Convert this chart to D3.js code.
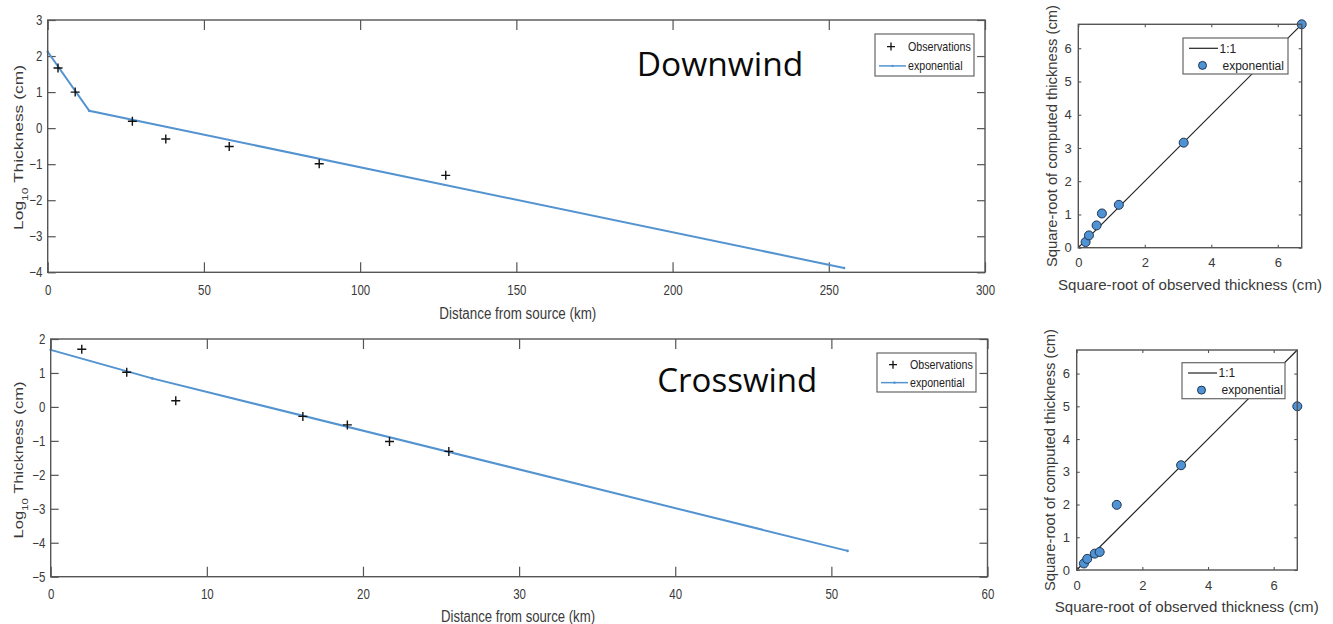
<!DOCTYPE html>
<html>
<head>
<meta charset="utf-8">
<script src="https://cdn.jsdelivr.net/npm/d3@7/dist/d3.min.js"></script>
<style>
  html, body { margin: 0; padding: 0; background: #fff; }
  svg { display: block; }
  text { font-family: "Liberation Sans", Arial, sans-serif; }
</style>
</head>
<body>
<svg id="chart" width="1333" height="624"></svg>
<script>
// ---------------- DATA ----------------
// Downwind profile (log10 thickness vs distance)
const dwObsX = [3.3, 8.8, 27.1, 37.8, 58.1, 86.9, 127.4];
const dwObsY = [1.67, 1.0, 0.19, -0.30, -0.51, -0.99, -1.31];
const dwFitX = [0, 13.3, 254.9];
const dwFitY = [2.12, 0.48, -3.88];
const dwXTicks = [0, 50, 100, 150, 200, 250, 300];
const dwYTicks = [-4, -3, -2, -1, 0, 1, 2, 3];

// Crosswind profile
const cwObsX = [1.99, 4.87, 8.01, 16.15, 19.0, 21.7, 25.5];
const cwObsY = [1.70, 1.02, 0.18, -0.28, -0.53, -1.02, -1.31];
const cwFitX = [0, 6.5, 51.04];
const cwFitY = [1.68, 0.84, -4.24];
const cwXTicks = [0, 10, 20, 30, 40, 50, 60];
const cwYTicks = [-5, -4, -3, -2, -1, 0, 1, 2];

// Square-root comparison (downwind)
const dwSqObs = [0.22, 0.32, 0.55, 0.71, 1.22, 3.17, 6.72];
const dwSqComp = [0.17, 0.37, 0.67, 1.03, 1.29, 3.16, 6.72];
// Square-root comparison (crosswind)
const cwSqObs = [0.22, 0.32, 0.55, 0.70, 1.22, 3.18, 6.72];
const cwSqComp = [0.20, 0.34, 0.50, 0.55, 1.99, 3.20, 5.00];
const sqXTicks = [0, 2, 4, 6];
const sqYTicks = [0, 1, 2, 3, 4, 5, 6];
const sqMax = 6.72;

const seriesNames = ["Observations", "exponential"];
const sqNames = ["1:1", "exponential"];
const titles = ["Downwind", "Crosswind"];

// ---------------- STYLE ----------------
const AXIS = "#555";
const BLUE = "#5393d0";
const TXT = "#3a3a3a";
const SQUEEZE = 0.82;

const svg = d3.select("#chart");

function squeeze(sel, f) {
  sel.each(function () {
    const w = this.getComputedTextLength();
    if (w > 0) {
      d3.select(this).attr("textLength", w * f).attr("lengthAdjust", "spacingAndGlyphs");
    }
  });
}
function fitLen(sel, len) {
  sel.attr("textLength", len).attr("lengthAdjust", "spacingAndGlyphs");
}

// ---------------- PROFILE PANELS ----------------
function profile(cfg) {
  const x = d3.scaleLinear().domain(cfg.xdom).range([cfg.x0, cfg.x1]);
  const y = d3.scaleLinear().domain(cfg.ydom).range([cfg.y1, cfg.y0]);
  const g = svg.append("g");

  const ax = g.append("g").attr("transform", `translate(0,${cfg.y1})`)
    .call(d3.axisBottom(x).tickValues(cfg.xticks).tickSize(-10).tickSizeOuter(0).tickPadding(12.8).tickFormat(d3.format("d")));
  const axT = g.append("g").attr("transform", `translate(0,${cfg.y0})`)
    .call(d3.axisTop(x).tickValues(cfg.xticks).tickSize(-10).tickSizeOuter(0).tickFormat(""));
  const ay = g.append("g").attr("transform", `translate(${cfg.x0},0)`)
    .call(d3.axisLeft(y).tickValues(cfg.yticks).tickSize(-8).tickSizeOuter(0).tickPadding(5.4).tickFormat(d3.format("d")));
  const ayR = g.append("g").attr("transform", `translate(${cfg.x1},0)`)
    .call(d3.axisRight(y).tickValues(cfg.yticks).tickSize(-8).tickSizeOuter(0).tickFormat(""));
  [ax, axT, ay, ayR].forEach(a => {
    a.select(".domain").remove();
    a.selectAll("line").attr("stroke", AXIS).attr("stroke-width", 1.2);
    a.selectAll("text").style("font-family", '"Liberation Sans", Arial, sans-serif')
      .style("font-size", "14px").style("fill", TXT);
  });
  squeeze(ax.selectAll("text"), SQUEEZE);
  squeeze(ay.selectAll("text"), SQUEEZE);

  // fit line
  const fit = cfg.fitX.map((v, i) => [v, cfg.fitY[i]]);
  g.append("path").datum(fit)
    .attr("d", d3.line().x(d => x(d[0])).y(d => y(d[1])))
    .attr("fill", "none").attr("stroke", BLUE).attr("stroke-width", 2);
  g.selectAll(".fitdot").data(fit).join("circle")
    .attr("cx", d => x(d[0])).attr("cy", d => y(d[1])).attr("r", 1.3).attr("fill", BLUE);

  // observations
  const obs = cfg.obsX.map((v, i) => [v, cfg.obsY[i]]);
  g.selectAll(".obs").data(obs).join("path")
    .attr("transform", d => `translate(${x(d[0])},${y(d[1])})`)
    .attr("d", "M-4.5,0H4.5M0,-4.5V4.5")
    .attr("stroke", "#111").attr("stroke-width", 1.4).attr("fill", "none");

  // frame
  g.append("rect").attr("x", cfg.x0).attr("y", cfg.y0)
    .attr("width", cfg.x1 - cfg.x0).attr("height", cfg.y1 - cfg.y0)
    .attr("fill", "none").attr("stroke", AXIS).attr("stroke-width", 1.4);

  // x label
  const xl = g.append("text").attr("x", cfg.xlab[0]).attr("y", cfg.xlab[1]).attr("dy", "0.35em")
    .attr("text-anchor", "middle").style("font-size", "16px").style("fill", TXT).text("Distance from source (km)");
  fitLen(xl, cfg.xlabLen);

  // y label
  const yl = g.append("g").attr("transform", `translate(${cfg.ylab[0]},${cfg.ylab[1]}) scale(${SQUEEZE},1) rotate(-90)`)
    .append("text").attr("text-anchor", "middle").attr("dy", "0.35em").style("font-size", "16px").style("fill", TXT);
  yl.append("tspan").text("Log");
  yl.append("tspan").attr("baseline-shift", "sub").style("font-size", "11px").text("10");
  yl.append("tspan").text(" Thickness (cm)");
  fitLen(yl, cfg.ylabLen);

  // title
  const t = g.append("text").attr("x", cfg.title[0]).attr("y", cfg.title[1])
    .style("font-family", '"Open Sans", sans-serif').style("font-size", "33px").style("fill", "#0a0a0a")
    .text(cfg.titleText);
  fitLen(t, cfg.titleLen);

  // legend
  const L = cfg.leg;
  const lg = g.append("g");
  lg.append("rect").attr("x", L.x0).attr("y", L.y0).attr("width", L.x1 - L.x0).attr("height", L.y1 - L.y0)
    .attr("fill", "#fff").attr("stroke", "#666").attr("stroke-width", 1.2);
  const h = L.y1 - L.y0;
  const r1 = L.y0 + 0.30 * h, r2 = L.y0 + 0.76 * h;
  lg.append("path").attr("transform", `translate(${L.x0 + 16},${r1})`)
    .attr("d", "M-4,0H4M0,-4V4").attr("stroke", "#111").attr("stroke-width", 1.3);
  lg.append("line").attr("x1", L.x0 + 4).attr("x2", L.x0 + 31).attr("y1", r2).attr("y2", r2)
    .attr("stroke", BLUE).attr("stroke-width", 1.5);
  lg.append("circle").attr("cx", L.x0 + 17.5).attr("cy", r2).attr("r", 1.2).attr("fill", BLUE);
  const lt = lg.selectAll(".lt").data(seriesNames).join("text")
    .attr("x", L.x0 + 33).attr("y", (d, i) => i === 0 ? r1 : r2).attr("dy", "0.35em")
    .style("font-size", "13px").style("fill", "#222").text(d => d);
  squeeze(lt, SQUEEZE);
}

profile({
  xdom: [0, 300], ydom: [-4, 3], x0: 47.7, x1: 985, y0: 20, y1: 272.3,
  xticks: dwXTicks, yticks: dwYTicks, obsX: dwObsX, obsY: dwObsY, fitX: dwFitX, fitY: dwFitY,
  xlab: [517.8, 313], xlabLen: 157, ylab: [18.3, 147.5], ylabLen: 165,
  title: [636.7, 75.7], titleLen: 166.7, titleText: titles[0],
  leg: { x0: 875, x1: 974, y0: 34, y1: 76 }
});
profile({
  xdom: [0, 60], ydom: [-5, 2], x0: 50.7, x1: 987.5, y0: 339, y1: 576.7,
  xticks: cwXTicks, yticks: cwYTicks, obsX: cwObsX, obsY: cwObsY, fitX: cwFitX, fitY: cwFitY,
  xlab: [518, 616.7], xlabLen: 154, ylab: [18.3, 460], ylabLen: 157,
  title: [657.3, 391.7], titleLen: 160, titleText: titles[1],
  leg: { x0: 877, x1: 976, y0: 353, y1: 392 }
});

// ---------------- SQUARE-ROOT PANELS ----------------
function sqPanel(cfg) {
  const x = d3.scaleLinear().domain([0, sqMax]).range([cfg.x0, cfg.x1]);
  const y = d3.scaleLinear().domain([0, sqMax]).range([cfg.y1, cfg.y0]);
  const g = svg.append("g");

  const ax = g.append("g").attr("transform", `translate(0,${cfg.y1})`)
    .call(d3.axisBottom(x).tickValues(sqXTicks).tickSize(-3).tickSizeOuter(0).tickPadding(10.5).tickFormat(d3.format("d")));
  const axT = g.append("g").attr("transform", `translate(0,${cfg.y0})`)
    .call(d3.axisTop(x).tickValues(sqXTicks).tickSize(-3).tickSizeOuter(0).tickFormat(""));
  const ay = g.append("g").attr("transform", `translate(${cfg.x0},0)`)
    .call(d3.axisLeft(y).tickValues(sqYTicks).tickSize(-3).tickSizeOuter(0).tickPadding(6.6).tickFormat(d3.format("d")));
  const ayR = g.append("g").attr("transform", `translate(${cfg.x1},0)`)
    .call(d3.axisRight(y).tickValues(sqYTicks).tickSize(-3).tickSizeOuter(0).tickFormat(""));
  [ax, axT, ay, ayR].forEach(a => {
    a.select(".domain").remove();
    a.selectAll("line").attr("stroke", AXIS).attr("stroke-width", 1.1);
    a.selectAll("text").style("font-family", '"Liberation Sans", Arial, sans-serif')
      .style("font-size", "13px").style("fill", TXT);
  });

  // 1:1 line
  g.append("line").attr("x1", x(0)).attr("y1", y(0)).attr("x2", x(sqMax)).attr("y2", y(sqMax))
    .attr("stroke", "#222").attr("stroke-width", 1.2);

  // points
  const pts = cfg.obs.map((v, i) => [v, cfg.comp[i]]);
  g.selectAll(".pt").data(pts).join("circle")
    .attr("cx", d => x(d[0])).attr("cy", d => y(d[1])).attr("r", 4.5)
    .attr("fill", "#4f93d4").attr("stroke", "#1f3550").attr("stroke-width", 1);

  // frame
  g.append("rect").attr("x", cfg.x0).attr("y", cfg.y0)
    .attr("width", cfg.x1 - cfg.x0).attr("height", cfg.y1 - cfg.y0)
    .attr("fill", "none").attr("stroke", AXIS).attr("stroke-width", 1.4);

  // labels
  const xl = g.append("text").attr("x", cfg.xlab[0]).attr("y", cfg.xlab[1]).attr("dy", "0.35em")
    .attr("text-anchor", "middle").style("font-size", "15px").style("fill", TXT)
    .text("Square-root of observed thickness (cm)");
  fitLen(xl, 264);
  const yl = g.append("text").attr("transform", `translate(${cfg.ylab[0]},${cfg.ylab[1]}) rotate(-90)`)
    .attr("text-anchor", "middle").attr("dy", "0.35em").style("font-size", "15px").style("fill", TXT)
    .text("Square-root of computed thickness (cm)");
  fitLen(yl, 262);

  // legend
  const L = cfg.leg;
  const lg = g.append("g");
  lg.append("rect").attr("x", L.x0).attr("y", L.y0).attr("width", L.x1 - L.x0).attr("height", L.y1 - L.y0)
    .attr("fill", "#fff").attr("stroke", "#666").attr("stroke-width", 1.2);
  const r1 = L.y0 + 10.3, r2 = L.y0 + 27.4;
  lg.append("line").attr("x1", L.x0 + 6).attr("x2", L.x0 + 35).attr("y1", r1).attr("y2", r1)
    .attr("stroke", "#222").attr("stroke-width", 1.2);
  lg.append("circle").attr("cx", L.x0 + 19.5).attr("cy", r2).attr("r", 4)
    .attr("fill", "#4f93d4").attr("stroke", "#1f3550").attr("stroke-width", 1);
  lg.selectAll(".lt").data(sqNames).join("text")
    .attr("x", (d, i) => i === 0 ? L.x0 + 36.5 : L.x0 + 39.5).attr("y", (d, i) => i === 0 ? r1 : r2)
    .attr("dy", "0.35em").style("font-size", "12px").style("fill", "#222").text(d => d);
}

sqPanel({
  x0: 1078.3, x1: 1301.7, y0: 24.3, y1: 247.7, obs: dwSqObs, comp: dwSqComp,
  xlab: [1190, 285], ylab: [1051.7, 136], leg: { x0: 1183, x1: 1288, y0: 38, y1: 74 }
});
sqPanel({
  x0: 1076.7, x1: 1297.3, y0: 350, y1: 570, obs: cwSqObs, comp: cwSqComp,
  xlab: [1186.7, 606.7], ylab: [1050, 460], leg: { x0: 1182, x1: 1285, y0: 362.7, y1: 398.7 }
});
</script>
</body>
</html>
